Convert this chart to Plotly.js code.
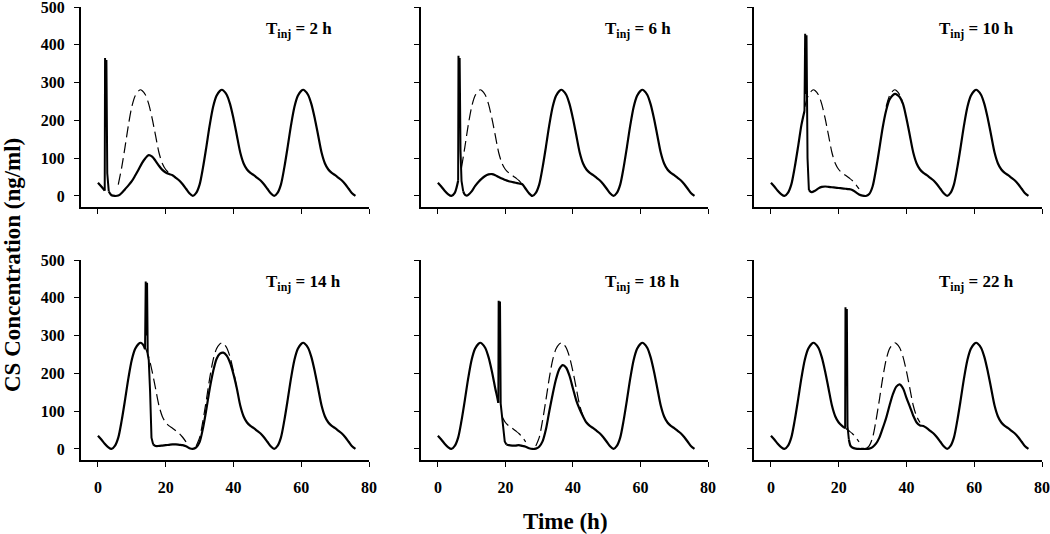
<!DOCTYPE html>
<html>
<head>
<meta charset="utf-8">
<script src="https://cdn.plot.ly/plotly-3.0.1.min.js"></script>
<style>html,body{margin:0;padding:0;background:#fff;}#chart{width:1050px;height:534px;}</style>
</head>
<body>
<div id="chart"></div>
<script>
// Baseline circadian CS profile (dashed reference)
const baseX = [0,1,2,3,4,
  5,6,7,8,9,10,11,12,12.6,13,14,15,16,17,18,19,20,21,22,23,24,25,26,27,28,
  29,30,31,32,33,34,35,36,36.6,37,38,39,40,41,42,43,44,45,46,47,48,49,50,51,52,
  53,54,55,56,57,58,59,60,60.6,61,62,63,64,65,66,67,68,69,70,71,72,73,74,75,76];
const baseY = [35,25,14,5,0,
  8,30,75,130,188,236,265,278,281,279,268,243,205,160,115,86,70,61,55,48,41,31,19,7,0,
  8,30,75,130,188,236,265,278,281,279,268,243,205,160,115,86,70,61,55,48,41,31,19,7,0,
  8,30,75,130,188,236,265,278,281,279,268,243,205,160,115,86,70,61,55,48,41,31,19,7,0];

// Injection times (h)
const injTimes = [2, 6, 10, 14, 18, 22];

// Injection spikes (drawn as straight segments)
const spike2X = [2.1,2.2,2.35,2.5,2.75];
const spike2Y = [365,330,215,360,60];
const spike6X = [6.1,6.3,6.45,6.7,7.0];
const spike6Y = [371,210,365,120,40];
const spike10X = [10.1,10.3,10.5,10.8];
const spike10Y = [429,270,425,100];
const spike14X = [14.1,14.3,14.5,14.7,15.0,15.4,15.8];
const spike14Y = [443,300,440,250,235,150,30];
const spike18X = [18.0,18.2,18.4,18.6,18.9,19.3,19.8];
const spike18Y = [392,250,390,120,94,60,20];
const spike22X = [22.0,22.2,22.4,22.6];
const spike22Y = [375,200,370,60];

// Solid curves around each spike, where they differ from the baseline
const post2X = [3.2,4,5,6,7,8,9,10,11,12,13,14,15,16,17,18,19,20,21];
const post2Y = [12,2,0,1,8,18,28,39,54,70,87,100,108,104,93,80,69,62,58];
const pre6X = [6.0];
const pre6Y = [40];
const post6X = [7.5,8,8.5,9,10,11,12,13,14,15,16,17,18,19,20,21,22,23,24];
const post6Y = [12,3,1,3,12,26,37,46,53,57,58,55,50,46,42,39,37,35,33];
const pre10X = [9.9];
const pre10Y = [225];
const post10X = [11.2,12,13,14,15,16,17,18,19,20,21,22,23,24,25,26,27,28,29,30,31,32,33,34,35,36,36.7,37,38];
const post10Y = [16,10,14,20,24,25,24,23,22,21,20,19,18,16,10,4,1,0,5,25,70,125,182,226,255,267,270,269,262];
const pre14X = [13.5,13.9];
const pre14Y = [273,264];
const post14X = [16.3,17,18,19,20,21,22,23,24,25,26,27,28,29,30,31,32,33,34,35,36,37,38,39,40];
const post14Y = [12,8,8,9,10,11,12,12,11,10,7,2,0,4,18,55,105,160,205,238,252,255,247,228,198];
const pre18X = [17.5,17.9];
const pre18Y = [140,122];
const post18X = [20.3,21,22,23,24,25,26,27,28,29,30,31,32,33,34,35,36,37,38,39,40,41,42];
const post18Y = [12,10,9,9,10,8,6,2,0,1,6,20,52,100,145,185,212,222,215,193,160,128,105];
const pre22X = [21.9];
const pre22Y = [55];
const post22X = [23.0,23.5,24,25,26,27,28,29,30,31,32,33,34,35,36,37,38,39,40,41,42,43,44];
const post22Y = [25,8,4,1,0,0,0,1,5,14,30,55,82,115,145,165,171,160,135,112,88,70,62];

// Time windows where the dashed baseline is visible
const dash2 = [[6, 23]];
const dash6 = [[7, 25]];
const dash10 = [[10, 26], [34, 39]];
const dash14 = [[14, 26], [29, 41]];
const dash18 = [[19, 26], [29, 43]];
const dash22 = [[22, 26], [28, 44]];

const xTicks = [0, 20, 40, 60, 80];
const yTicks = [0, 100, 200, 300, 400, 500];

const spikeXs = [spike2X, spike6X, spike10X, spike14X, spike18X, spike22X];
const spikeYs = [spike2Y, spike6Y, spike10Y, spike14Y, spike18Y, spike22Y];
const preXs = [[], pre6X, pre10X, pre14X, pre18X, pre22X];
const preYs = [[], pre6Y, pre10Y, pre14Y, pre18Y, pre22Y];
const postXs = [post2X, post6X, post10X, post14X, post18X, post22X];
const postYs = [post2Y, post6Y, post10Y, post14Y, post18Y, post22Y];
const dashW = [dash2, dash6, dash10, dash14, dash18, dash22];

function panelSeries(i) {
  const sx = spikeXs[i], sy = spikeYs[i];
  const prx = preXs[i], pry = preYs[i];
  const pox = postXs[i], poy = postYs[i];
  const start = prx.length ? prx[0] : sx[0];
  const end = pox[pox.length - 1];
  const ax = [], ay = [];
  baseX.forEach((v, k) => { if (v < start) { ax.push(v); ay.push(baseY[k]); } });
  prx.forEach((v, k) => { ax.push(v); ay.push(pry[k]); });
  const lastPre = [ax[ax.length - 1], ay[ay.length - 1]];
  const smX = ax.slice(), smY = ay.slice();
  smX.push(null); smY.push(null);
  pox.forEach((v, k) => { smX.push(v); smY.push(poy[k]); });
  baseX.forEach((v, k) => { if (v > end) { smX.push(v); smY.push(baseY[k]); } });
  const spX = [lastPre[0]].concat(sx, [pox[0]]);
  const spY = [lastPre[1]].concat(sy, [poy[0]]);
  return {smX, smY, spX, spY};
}
function dashSeries(wins) {
  const xs = [], ys = [];
  wins.forEach((w, k) => {
    if (k > 0) { xs.push(null); ys.push(null); }
    baseX.forEach((v, i) => { if (v >= w[0] && v <= w[1]) { xs.push(v); ys.push(baseY[i]); } });
  });
  return [xs, ys];
}

const colDom = [[81/1050, 369/1050], [421/1050, 708/1050], [754/1050, 1042/1050]];
const rowDom = [[1 - 207.3/534, 1 - 7/534], [1 - 460.3/534, 1 - 260/534]];
const serif = 'Liberation Serif, Times New Roman, serif';
const tickFont = {family: serif, size: 16, color: '#000', weight: 'bold'};

const traces = [];
const layout = {
  width: 1050, height: 534,
  margin: {l: 0, r: 0, t: 0, b: 0},
  paper_bgcolor: '#fff', plot_bgcolor: '#fff',
  showlegend: false,
  annotations: []
};

injTimes.forEach((t, i) => {
  const r = Math.floor(i / 3), c = i % 3;
  const xa = i === 0 ? 'x' : 'x' + (i + 1);
  const ya = i === 0 ? 'y' : 'y' + (i + 1);
  const d = dashSeries(dashW[i]);
  traces.push({x: d[0], y: d[1], xaxis: xa, yaxis: ya, mode: 'lines',
    line: {color: '#000', width: 1.2, dash: '11px,5px', shape: 'spline', smoothing: 0.8}, hoverinfo: 'skip', connectgaps: false});
  const s = panelSeries(i);
  traces.push({x: s.smX, y: s.smY, xaxis: xa, yaxis: ya, mode: 'lines', connectgaps: false,
    line: {color: '#000', width: 2.2, shape: 'spline', smoothing: 0.8}, hoverinfo: 'skip'});
  traces.push({x: s.spX, y: s.spY, xaxis: xa, yaxis: ya, mode: 'lines',
    line: {color: '#000', width: 2}, hoverinfo: 'skip'});
  const xk = i === 0 ? 'xaxis' : 'xaxis' + (i + 1);
  const yk = i === 0 ? 'yaxis' : 'yaxis' + (i + 1);
  layout[xk] = {domain: colDom[c], range: [-5, 80], anchor: ya, showline: true, linewidth: 2, linecolor: '#000',
    ticks: 'outside', ticklen: 5, tickwidth: 1, tickcolor: '#000', tickvals: xTicks, ticktext: xTicks.map(String),
    showticklabels: r === 1, showgrid: false, zeroline: false, tickfont: tickFont, ticklabelstandoff: 6,
    ticklabeloverflow: 'allow', fixedrange: true};
  layout[yk] = {domain: rowDom[r], range: [-30, 500], anchor: xa, showline: true, linewidth: 2, linecolor: '#000',
    ticks: 'outside', ticklen: 5, tickwidth: 1, tickcolor: '#000', tickvals: yTicks, ticktext: yTicks.map(String),
    showticklabels: c === 0, showgrid: false, zeroline: false, tickfont: tickFont, ticklabelstandoff: 6,
    ticklabeloverflow: 'allow', fixedrange: true};
  layout.annotations.push({xref: xa, yref: ya, x: 49, y: 440, xanchor: 'left', yanchor: 'middle', showarrow: false,
    text: '<b>T<sub>inj</sub> = ' + t + ' h</b>', font: {family: serif, size: 17, color: '#000'}});
});

layout.annotations.push({xref: 'paper', yref: 'paper', x: 12/1050, y: 1 - 265/534, xanchor: 'center', yanchor: 'middle',
  showarrow: false, textangle: -90, text: '<b>CS Concentration (ng/ml)</b>',
  font: {family: serif, size: 23, color: '#000'}});
layout.annotations.push({xref: 'paper', yref: 'paper', x: 565/1050, y: 1 - 521/534, xanchor: 'center', yanchor: 'middle',
  showarrow: false, text: '<b>Time (h)</b>',
  font: {family: serif, size: 23, color: '#000'}});

Plotly.newPlot('chart', traces, layout, {staticPlot: true, displayModeBar: false});
</script>
</body>
</html>
